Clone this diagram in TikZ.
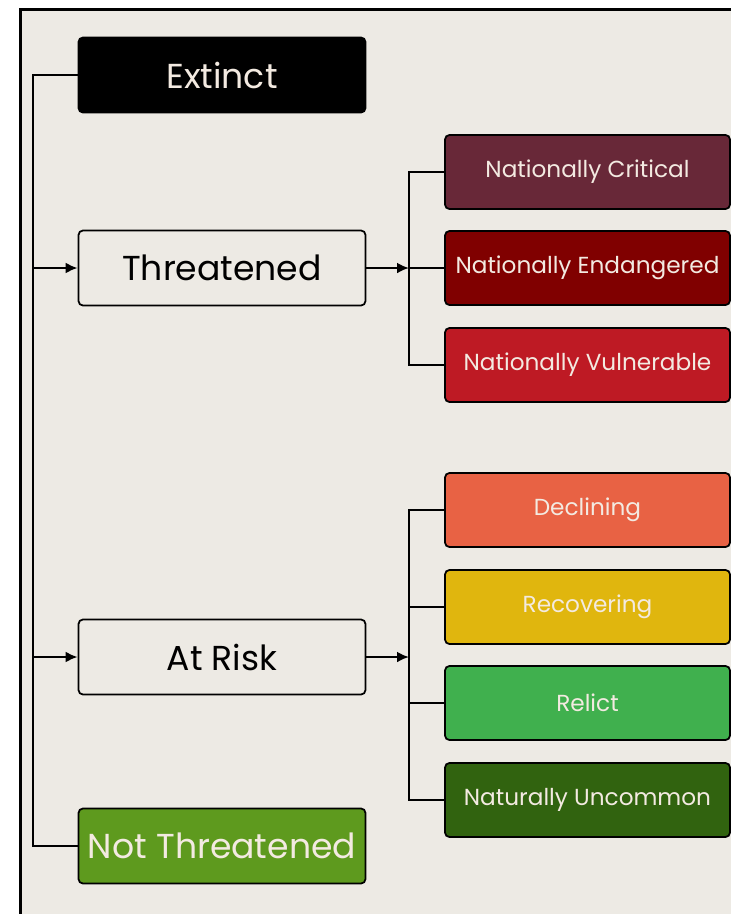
\documentclass[tikz,border=0pt]{standalone}
\usepackage{fontspec}
\setmainfont{Poppins}
\usetikzlibrary{arrows.meta,positioning}
\definecolor{Ink}{HTML}{000000}
\definecolor{Paper}{HTML}{EDEAE4}
\definecolor{Cream}{HTML}{F3EAE1}
\definecolor{Plum}{HTML}{682838}
\definecolor{Maroon}{HTML}{800000}
\definecolor{Crimson}{HTML}{BE1A24}
\definecolor{Coral}{HTML}{E86244}
\definecolor{Mustard}{HTML}{E0B60E}
\definecolor{Grass}{HTML}{40B04E}
\definecolor{Forest}{HTML}{31630F}
\definecolor{Leaf}{HTML}{5E9A1E}
\tikzset{
  category/.style={
    rounded corners=2.5pt, draw=Ink, line width=1pt, fill=Paper, text=Ink,
    minimum width=5.74cm, minimum height=1.5cm, inner sep=0pt,
    font=\fontsize{19.7}{23}\selectfont
  },
  status/.style={
    rounded corners=2.5pt, draw=Ink, line width=1pt, text=Cream,
    minimum width=5.7cm, minimum height=1.48cm, inner sep=0pt,
    font=\fontsize{13.2}{16}\selectfont
  },
  flow/.style={-{Latex[length=2.4mm,width=2.2mm]}, line width=1.35pt, draw=Ink},
  link/.style={line width=1.35pt, draw=Ink}
}

\begin{document}
\begin{tikzpicture}[x=0.02cm,y=-0.02cm]
    \useasboundingbox (0,0) rectangle (731,914);
    \draw[line width=1.7pt, fill=Paper] (20.5,9.5) rectangle (780,960);
    % main categories
    \node[category, fill=Ink, text=Cream] (extinct) at (222,75) {Extinct};
    \node[category] (threatened) at (222,268) {Threatened};
    \node[category] (atrisk) at (222,657) {At Risk};
    \node[category, fill=Leaf, text=Cream] (notthreat) at (222,846) {Not Threatened};
    % sub-categories
    \node[status, fill=Plum] (critical) at (587.5,172) {Nationally Critical};
    \node[status, fill=Maroon] (endangered) at (587.5,268) {Nationally Endangered};
    \node[status, fill=Crimson] (vulnerable) at (587.5,365) {Nationally Vulnerable};
    \node[status, fill=Coral] (declining) at (587.5,510) {Declining};
    \node[status, fill=Mustard] (recovering) at (587.5,607) {Recovering};
    \node[status, fill=Grass] (relict) at (587.5,703) {Relict};
    \node[status, fill=Forest] (uncommon) at (587.5,800) {Naturally Uncommon};
    % connectors
    \coordinate (trunk) at (33,0);
    \coordinate (fork) at (409,0);
    \draw[link] (extinct.west) -- (extinct.west -| trunk) -- (notthreat.west -| trunk) -- (notthreat.west);
    \draw[flow] (threatened.west -| trunk) -- (threatened.west);
    \draw[flow] (atrisk.west -| trunk) -- (atrisk.west);
    \draw[link] (critical.west) -- (critical.west -| fork) -- (vulnerable.west -| fork) -- (vulnerable.west);
    \draw[link] (endangered.west) -- (endangered.west -| fork);
    \draw[flow] (threatened.east) -- (threatened.east -| fork);
    \draw[link] (declining.west) -- (declining.west -| fork) -- (uncommon.west -| fork) -- (uncommon.west);
    \foreach \sub in {recovering,relict}
      \draw[link] (\sub.west) -- (\sub.west -| fork);
    \draw[flow] (atrisk.east) -- (atrisk.east -| fork);
  \end{tikzpicture}
\end{document}
